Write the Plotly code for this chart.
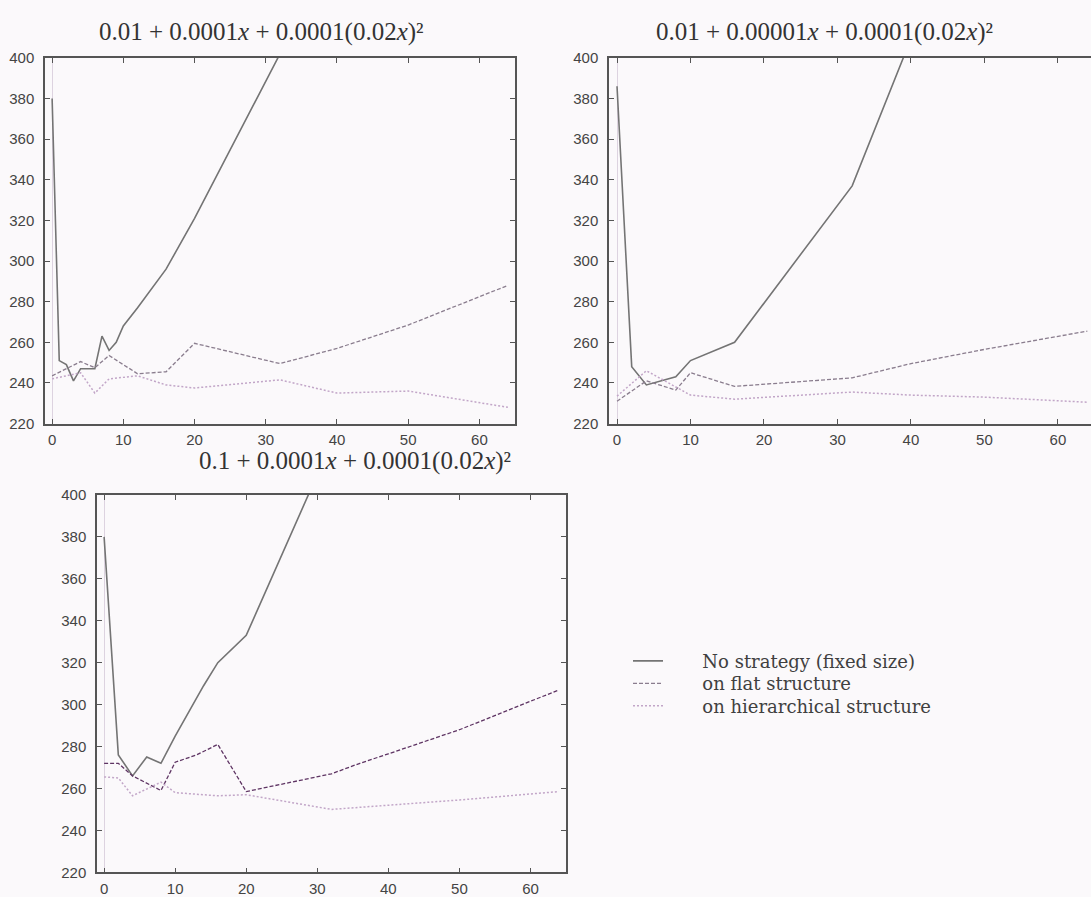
import plotly.graph_objects as go

W, H = 1091, 897

# ---------------- data ----------------
series_names = ["No strategy (fixed size)", "on flat structure", "on hierarchical structure"]
panel_titles = [
    "0.01 + 0.0001<i>x</i> + 0.0001(0.02<i>x</i>)²",
    "0.01 + 0.00001<i>x</i> + 0.0001(0.02<i>x</i>)²",
    "0.1 + 0.0001<i>x</i> + 0.0001(0.02<i>x</i>)²",
]
y_ticks = [220, 240, 260, 280, 300, 320, 340, 360, 380, 400]
x_ticks = [0, 10, 20, 30, 40, 50, 60]

# panel 1 (top left)
x1_fixed = [0, 1, 2, 3, 4, 6, 7, 8, 9, 10, 12, 16, 20, 32, 40, 50, 64]
y1_fixed = [380, 251, 249, 241, 247, 247, 263, 256, 260, 268, 277, 296, 321, 402, 470, 560, 700]
x1_flat = [0, 4, 6, 8, 12, 16, 20, 32, 40, 50, 64]
y1_flat = [243.5, 250.5, 247.5, 253.5, 244.5, 245.5, 259.5, 249.5, 257, 268.5, 288]
x1_hier = [0, 4, 6, 8, 12, 16, 20, 32, 40, 50, 64]
y1_hier = [242, 245, 235, 242, 243.5, 239, 237.5, 241.5, 235, 236, 228]

# panel 2 (top right)
x2_fixed = [0, 2, 4, 6, 8, 10, 16, 32, 40, 50, 64]
y2_fixed = [386, 248, 239, 241, 243, 251, 260, 337, 410, 500, 650]
x2_flat = [0, 4, 8, 10, 16, 32, 40, 50, 64]
y2_flat = [231, 241, 236.5, 245, 238.3, 242.5, 249.5, 256.5, 265.5]
x2_hier = [0, 4, 8, 10, 16, 32, 40, 50, 64]
y2_hier = [233.5, 246, 238, 234, 232, 235.5, 234, 233, 230.5]

# panel 3 (bottom)
x3_fixed = [0, 2, 4, 6, 8, 10, 12, 14, 16, 20, 32, 40, 50, 64]
y3_fixed = [380, 276, 266, 275, 272, 285, 297, 309, 320, 333, 425, 530, 660, 850]
x3_flat = [0, 2, 4, 8, 10, 13, 16, 20, 32, 36, 40, 50, 64]
y3_flat = [272, 272, 266, 259, 272.5, 276, 281, 258.5, 267, 272, 276.5, 288, 307]
x3_hier = [0, 2, 4, 8, 10, 16, 20, 32, 40, 50, 64]
y3_hier = [265.5, 265, 256.5, 263, 258, 256.5, 257, 250, 252, 254.5, 258.5]

# ---------------- styling ----------------
BG = "#fbf9fb"
FRAME = "#555555"
C_FIXED = "#747474"
C_FLAT_TOP = "#8a7d8e"
C_FLAT_BOT = "#5e3463"
C_HIER = "#c2a6c8"
SERIF = "Liberation Serif, Times New Roman, serif"
LEG_SERIF = "DejaVu Serif, Liberation Serif, serif"
PAD = "\u00a0" * 6
legend_ids = ["legend", "legend2", "legend3"]
legend_rows_px = [667, 690, 713]

fig = go.Figure()

panels = [
    (x1_fixed, y1_fixed, x1_flat, y1_flat, x1_hier, y1_hier, "x", "y", C_FLAT_TOP, True),
    (x2_fixed, y2_fixed, x2_flat, y2_flat, x2_hier, y2_hier, "x2", "y2", C_FLAT_TOP, False),
    (x3_fixed, y3_fixed, x3_flat, y3_flat, x3_hier, y3_hier, "x3", "y3", C_FLAT_BOT, False),
]
for xf, yf, xl, yl, xh, yh, xa, ya, cflat, show in panels:
    fig.add_trace(go.Scatter(x=xf, y=yf, mode="lines", xaxis=xa, yaxis=ya,
                             name=PAD + series_names[0], showlegend=show, legend=legend_ids[0],
                             line=dict(color=C_FIXED, width=1.6)))
    fig.add_trace(go.Scatter(x=xl, y=yl, mode="lines", xaxis=xa, yaxis=ya,
                             name=PAD + series_names[1], showlegend=show, legend=legend_ids[1],
                             line=dict(color=cflat, width=1.3, dash="4px,2px")))
    fig.add_trace(go.Scatter(x=xh, y=yh, mode="lines", xaxis=xa, yaxis=ya,
                             name=PAD + series_names[2], showlegend=show, legend=legend_ids[2],
                             line=dict(color=C_HIER, width=1.5, dash="2px,2px")))


def px_x(a, b):
    return [a / W, min(b / W, 1.0)]


def px_y(top, bottom):
    return [1 - bottom / H, 1 - top / H]


tickfont = dict(family="Liberation Sans, Arial, sans-serif", size=15, color="#444444")


def xaxis(domain, anchor, rng, mirror=True):
    return dict(domain=domain, anchor=anchor, range=rng, tickvals=x_ticks,
                showgrid=False, zeroline=True, zerolinecolor="#ddd3e0", zerolinewidth=1,
                showline=True, linecolor=FRAME, linewidth=1.5, mirror="allticks" if mirror else False,
                ticks="inside", ticklen=5, tickcolor=FRAME, tickwidth=1,
                tickfont=tickfont, ticklabelstandoff=2, fixedrange=True)


def yaxis(domain, anchor, mirror=True):
    return dict(domain=domain, anchor=anchor, range=[220, 400], tickvals=y_ticks,
                showgrid=False, zeroline=False,
                showline=True, linecolor=FRAME, linewidth=1.5, mirror="allticks" if mirror else False,
                ticks="inside", ticklen=5, tickcolor=FRAME, tickwidth=1,
                tickfont=tickfont, ticklabelstandoff=6, fixedrange=True)


def legend_at(ypx):
    return dict(x=628 / W, y=1 - ypx / H, xanchor="left", yanchor="middle",
                bgcolor="rgba(0,0,0,0)", borderwidth=0,
                font=dict(family=LEG_SERIF, size=18, color="#404040"))


fig.update_layout(
    width=W, height=H, autosize=False,
    margin=dict(l=0, r=0, t=0, b=0, pad=0),
    paper_bgcolor=BG, plot_bgcolor=BG,
    xaxis=xaxis(px_x(45, 515), "y", [-1, 65]),
    yaxis=yaxis(px_y(50, 424), "x"),
    xaxis2=xaxis(px_x(609, 1091), "y2", [-1.09, 64.5]),
    yaxis2=yaxis(px_y(50, 424), "x2", mirror=False),
    xaxis3=xaxis(px_x(97, 566), "y3", [-1, 65]),
    yaxis3=yaxis(px_y(497, 883), "x3"),
    legend=legend_at(legend_rows_px[0]),
    legend2=legend_at(legend_rows_px[1]),
    legend3=legend_at(legend_rows_px[2]),
    showlegend=True,
)

title_pos = [(261, 24), (824, 24), (355, 462)]
for (cx, cy), t in zip(title_pos, panel_titles):
    fig.add_annotation(text=t, x=cx / W, y=1 - cy / H, xref="paper", yref="paper",
                       xanchor="center", yanchor="middle", showarrow=False,
                       font=dict(family=SERIF, size=25, color="#333333"))

fig.write_html("out.html")
